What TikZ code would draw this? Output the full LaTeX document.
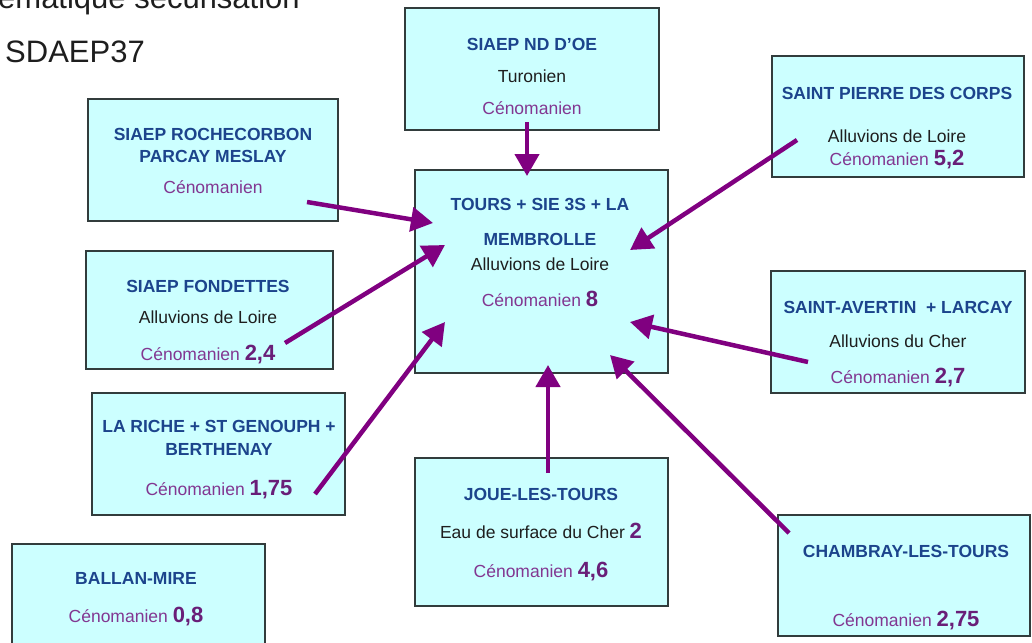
\documentclass[tikz,border=0pt]{standalone}
\usepackage{fontspec}
\setmainfont{Liberation Sans}
\usetikzlibrary{arrows.meta}
\definecolor{boxfill}{RGB}{204,255,255}
\definecolor{boxline}{RGB}{50,60,60}
\definecolor{titleblue}{RGB}{28,68,140}
\definecolor{cenopurple}{RGB}{130,55,145}
\definecolor{numpurple}{RGB}{105,30,120}
\definecolor{arrowpurple}{RGB}{128,0,128}
\definecolor{bodytext}{RGB}{30,30,30}
\newcommand\bignum[1]{{\fontsize{22}{22}\selectfont\bfseries\color{numpurple}#1}}
\begin{document}
\begin{tikzpicture}[x=1pt,y=-1pt,
  box/.style={draw=boxline, fill=boxfill, line width=1.5pt, inner sep=0pt},
  ttl/.style={font=\fontsize{17.5}{17.5}\selectfont\bfseries, text=titleblue, anchor=base, inner sep=0pt},
  body/.style={font=\fontsize{17.5}{17.5}\selectfont, text=bodytext, anchor=base, inner sep=0pt},
  ceno/.style={font=\fontsize{17.5}{17.5}\selectfont, text=cenopurple, anchor=base, inner sep=0pt},
  head/.style={font=\fontsize{31}{31}\selectfont, text=bodytext, inner sep=0pt},
  arr/.style={draw=arrowpurple, line width=4.5pt, -{Triangle[length=22pt,width=24pt]}}]
\useasboundingbox (0,0) rectangle (1032,642);
\clip (0,0) rectangle (1032,642);
% headings
\node[head, anchor=base west] (h1) at (-2,9) {ématique sécurisation};
\node[head, anchor=base west] (h2) at (5,63) {SDAEP37};
% boxes
\node[box, minimum width=254, minimum height=122] (ndoe) at (532,69) {};
\node[box, minimum width=253, minimum height=203] (tours) at (541.5,271.5) {};
\node[box, minimum width=250, minimum height=122] (roche) at (213,160) {};
\node[box, minimum width=247, minimum height=118] (fond) at (209.5,310) {};
\node[box, minimum width=253, minimum height=122] (riche) at (218.5,454) {};
\node[box, minimum width=253, minimum height=116] (ballan) at (138.5,602) {};
\node[box, minimum width=252, minimum height=121] (spierre) at (898,116.5) {};
\node[box, minimum width=254, minimum height=122] (savert) at (898,332) {};
\node[box, minimum width=253, minimum height=148] (joue) at (541.5,532) {};
\node[box, minimum width=252, minimum height=121] (chambray) at (904,575.5) {};
% texts
\node[ttl] (ndoe1) at (532,50) {SIAEP ND D’OE};
\node[body] (ndoe2) at (532,82) {Turonien};
\node[ceno] (ndoe3) at (532,114) {Cénomanien};
\node[ttl] (tours1) at (540,210) {TOURS + SIE 3S + LA};
\node[ttl] (tours2) at (540,245) {MEMBROLLE};
\node[body] (tours3) at (540,270) {Alluvions de Loire};
\node[ceno] (tours4) at (540,306) {Cénomanien \bignum{8}};
\node[ttl] (roche1) at (213,140) {SIAEP ROCHECORBON};
\node[ttl] (roche2) at (213,162) {PARCAY MESLAY};
\node[ceno] (roche3) at (213,193) {Cénomanien};
\node[ttl] (fond1) at (208,292) {SIAEP FONDETTES};
\node[body] (fond2) at (208,323) {Alluvions de Loire};
\node[ceno] (fond3) at (208,360) {Cénomanien \bignum{2,4}};
\node[ttl] (riche1) at (219,432) {LA RICHE + ST GENOUPH +};
\node[ttl] (riche2) at (219,455) {BERTHENAY};
\node[ceno] (riche3) at (219,495) {Cénomanien \bignum{1,75}};
\node[ttl] (ballan1) at (136,584) {BALLAN-MIRE};
\node[ceno] (ballan2) at (136,622) {Cénomanien \bignum{0,8}};
\node[ttl] (spierre1) at (897,99) {SAINT PIERRE DES CORPS};
\node[body] (spierre2) at (897,142) {Alluvions de Loire};
\node[ceno] (spierre3) at (897,165) {Cénomanien \bignum{5,2}};
\node[ttl] (savert1) at (898,313) {SAINT-AVERTIN\ \ + LARCAY};
\node[body] (savert2) at (898,347) {Alluvions du Cher};
\node[ceno] (savert3) at (898,383) {Cénomanien \bignum{2,7}};
\node[ttl] (joue1) at (541,500) {JOUE-LES-TOURS};
\node[body] (joue2) at (541,538) {Eau de surface du Cher \bignum{2}};
\node[ceno] (joue3) at (541,577) {Cénomanien \bignum{4,6}};
\node[ttl] (chambray1) at (906,557) {CHAMBRAY-LES-TOURS};
\node[ceno] (chambray2) at (906,626) {Cénomanien \bignum{2,75}};
% arrows
\draw[arr] ([shift={(-5,53)}]ndoe.center) -- ([shift={(-14.5,-95.5)}]tours.center);
\draw[arr] ([shift={(94,42)}]roche.center) -- ([shift={(-108.5,-48.5)}]tours.center);
\draw[arr] ([shift={(75.5,33)}]fond.center) -- ([shift={(-96.5,-26.5)}]tours.center);
\draw[arr] ([shift={(96.5,40)}]riche.center) -- ([shift={(-96.5,50.5)}]tours.center);
\draw[arr] ([shift={(6.5,-59)}]joue.center) -- ([shift={(6.5,93.5)}]tours.center);
\draw[arr] ([shift={(-115,-42.5)}]chambray.center) -- ([shift={(68.5,83.5)}]tours.center);
\draw[arr] ([shift={(-90,30)}]savert.center) -- ([shift={(88.5,50.5)}]tours.center);
\draw[arr] ([shift={(-101,23.5)}]spierre.center) -- ([shift={(88.5,-21.5)}]tours.center);
\end{tikzpicture}
\end{document}
